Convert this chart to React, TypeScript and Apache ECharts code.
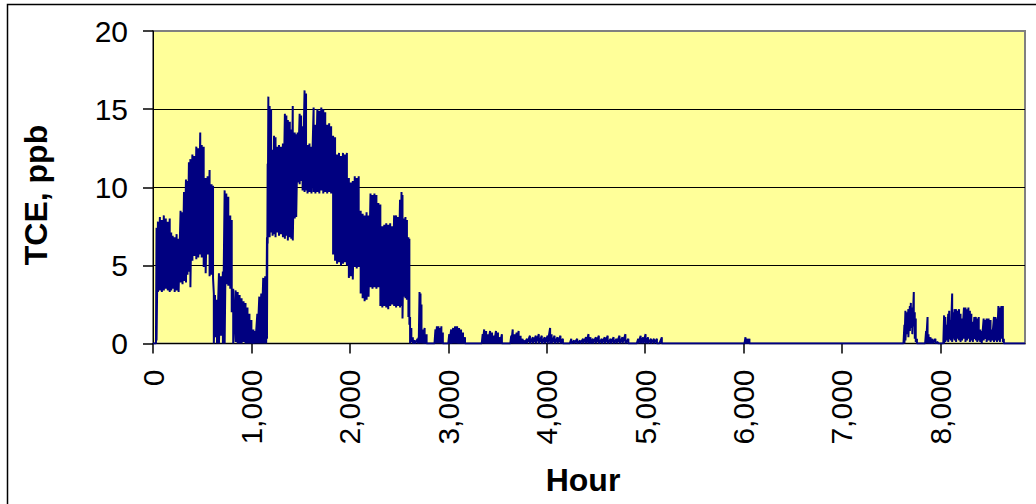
import { useEffect, useRef } from "react";
import * as echarts from "echarts";

// Axis ticks
const hourTicks = [0, 1000, 2000, 3000, 4000, 5000, 6000, 7000, 8000];
const ppbTicks = [0, 5, 10, 15, 20];
const hourEnd = 8860;

// Hourly TCE record summarised as [hour, highest ppb, lowest ppb] around each sample hour.
// Early-year episode (hours 0 – 2 800)
const earlyYear: [number, number, number][] = [
  [0, 0, 0], [30, 0, 0], [36, 7.4, 0.2], [50, 7.8, 3.3], [70, 8.1, 3.4], [90, 7.9, 3.3],
  [110, 8.2, 3.4], [130, 8.0, 3.5], [150, 7.8, 3.4], [170, 8.0, 3.3], [185, 7.1, 3.4],
  [200, 6.9, 3.5], [220, 6.8, 3.3], [240, 7.0, 3.4], [260, 6.7, 3.3], [280, 8.5, 3.9],
  [300, 8.4, 3.8], [315, 9.7, 4.0], [335, 10.5, 3.9], [350, 10.4, 4.4], [365, 11.6, 4.6],
  [380, 11.8, 3.6], [400, 12.1, 5.3], [420, 12.0, 5.6], [440, 12.6, 5.4], [460, 12.5, 5.5],
  [480, 13.5, 5.7], [495, 12.7, 5.5], [515, 12.6, 4.9], [535, 10.6, 4.5], [555, 10.7, 5.7],
  [575, 11.1, 4.3], [595, 10.2, 4.4], [610, 10.1, 4.2], [618, 3.2, 0], [630, 3.1, 0.4],
  [650, 2.8, 0], [670, 4.5, 0], [690, 4.3, 0.5], [710, 4.6, 0], [728, 9.8, 0],
  [745, 9.6, 3.8], [765, 9.4, 3.7], [785, 8.2, 3.5], [800, 7.9, 2.0], [815, 3.5, 0],
  [840, 3.4, 0.1], [860, 3.3, 0], [880, 3.1, 0], [900, 2.9, 0], [920, 2.7, 0.1],
  [940, 2.6, 0], [960, 2.3, 0], [980, 1.9, 0], [1000, 1.5, 0], [1020, 0.9, 0],
  [1040, 0.8, 0], [1060, 1.9, 0], [1080, 3.0, 0], [1100, 3.2, 0], [1120, 4.2, 0],
  [1140, 4.3, 0], [1150, 4.3, 0], [1158, 6.8, 0.3], [1165, 11.5, 6.4], [1172, 15.8, 6.9],
  [1185, 15.2, 6.8], [1200, 15.0, 7.1], [1215, 12.4, 6.9], [1230, 13.3, 7.0], [1245, 13.2, 6.8],
  [1260, 12.6, 7.1], [1280, 12.7, 6.9], [1300, 12.6, 7.0], [1320, 12.8, 6.8], [1340, 14.7, 6.7],
  [1355, 14.6, 6.9], [1370, 14.3, 6.6], [1390, 14.2, 6.8], [1405, 13.7, 6.7], [1420, 15.2, 6.6],
  [1440, 13.5, 8.0], [1455, 13.4, 8.1], [1470, 13.5, 10.3], [1490, 14.7, 10.2], [1505, 14.6, 10.4],
  [1520, 13.9, 9.8], [1540, 16.2, 9.7], [1555, 16.0, 9.8], [1570, 12.7, 9.6], [1590, 12.8, 9.7],
  [1610, 12.6, 9.6], [1632, 15.1, 9.7], [1650, 14.0, 9.6], [1670, 15.0, 9.7], [1690, 14.9, 9.6],
  [1710, 15.1, 9.8], [1730, 15.0, 9.6], [1750, 14.8, 9.7], [1770, 14.0, 9.6], [1790, 14.1, 9.7],
  [1810, 13.9, 9.6], [1830, 13.3, 5.7], [1850, 13.2, 5.3], [1870, 12.1, 5.1], [1890, 12.2, 5.2],
  [1910, 12.0, 5.0], [1930, 12.2, 5.1], [1950, 12.1, 5.2], [1970, 12.2, 5.0], [1990, 10.6, 4.2],
  [2010, 10.3, 4.3], [2030, 10.4, 4.1], [2050, 10.7, 4.9], [2070, 10.6, 4.8], [2090, 10.7, 4.9],
  [2110, 8.5, 3.2], [2130, 8.3, 2.9], [2150, 8.2, 2.7], [2170, 8.4, 2.8], [2190, 8.2, 3.0],
  [2210, 9.6, 3.6], [2230, 9.5, 3.5], [2250, 9.6, 3.6], [2270, 9.5, 3.5], [2290, 9.0, 3.6],
  [2310, 8.9, 2.4], [2330, 7.5, 2.3], [2350, 7.6, 2.4], [2370, 7.7, 2.3], [2390, 7.6, 2.2],
  [2410, 7.7, 2.4], [2430, 7.5, 2.5], [2450, 8.2, 2.4], [2470, 8.2, 2.3], [2490, 8.1, 2.4],
  [2510, 9.2, 2.3], [2525, 9.7, 2.4], [2535, 9.5, 1.6], [2550, 8.0, 3.0], [2565, 8.1, 2.9],
  [2580, 7.9, 2.8], [2595, 6.8, 1.7], [2605, 6.7, 1.2], [2612, 1.7, 0], [2625, 1.0, 0.1],
  [2640, 0.4, 0], [2660, 0.2, 0], [2690, 0.3, 0], [2700, 0.4, 0], [2708, 3.3, 0],
  [2718, 3.2, 0], [2728, 2.5, 0], [2740, 0.9, 0], [2760, 1.0, 0], [2780, 0.6, 0], [2800, 0, 0],
];

// Low-level tail (hours 2 800 – 6 100)
const midYear: [number, number, number][] = [
  [2860, 0, 0], [2870, 0.9, 0], [2885, 1.1, 0], [2900, 1.1, 0], [2915, 1.0, 0], [2930, 1.1, 0],
  [2945, 0.7, 0], [2958, 0, 0], [3000, 0, 0], [3010, 0.6, 0], [3030, 0.9, 0], [3050, 1.0, 0],
  [3070, 1.1, 0], [3090, 1.1, 0], [3110, 1.0, 0], [3130, 0.9, 0], [3150, 0.7, 0], [3170, 0.4, 0],
  [3180, 0, 0], [3340, 0, 0], [3350, 0.6, 0], [3365, 0.9, 0], [3385, 0.8, 0], [3405, 0.6, 0],
  [3425, 0.8, 0], [3445, 0.7, 0], [3465, 0.5, 0], [3485, 0.8, 0], [3505, 0.7, 0], [3525, 0.4, 0],
  [3545, 0.6, 0], [3560, 0, 0], [3630, 0, 0], [3640, 0.5, 0], [3655, 0.9, 0], [3675, 0.6, 0],
  [3695, 0.7, 0], [3715, 0.8, 0], [3735, 0.5, 0], [3755, 0.3, 0], [3775, 0.2, 0], [3800, 0.3, 0],
  [3830, 0.5, 0], [3860, 0.4, 0], [3890, 0.5, 0], [3920, 0.6, 0], [3950, 0.5, 0], [3980, 0.4, 0],
  [4010, 0.5, 0], [4035, 1.0, 0], [4050, 0.6, 0], [4080, 0.5, 0], [4110, 0.4, 0], [4140, 0.5, 0],
  [4165, 0.3, 0], [4180, 0, 0], [4235, 0, 0], [4250, 0.3, 0], [4280, 0.2, 0], [4310, 0.3, 0],
  [4340, 0.2, 0], [4370, 0.3, 0], [4400, 0.4, 0], [4425, 0.6, 0], [4445, 0.4, 0], [4470, 0.3, 0],
  [4500, 0.4, 0], [4530, 0.5, 0], [4560, 0.3, 0], [4590, 0.4, 0], [4620, 0.5, 0], [4650, 0.3, 0],
  [4680, 0.4, 0], [4710, 0.3, 0], [4740, 0.5, 0], [4770, 0.4, 0], [4800, 0.6, 0], [4830, 0.3, 0],
  [4850, 0, 0], [4915, 0, 0], [4930, 0.3, 0], [4955, 0.5, 0], [4980, 0.4, 0], [5005, 0.6, 0],
  [5030, 0.4, 0], [5060, 0.3, 0], [5090, 0.3, 0], [5120, 0.3, 0], [5145, 0, 0], [5170, 0.4, 0],
  [5185, 0, 0], [6010, 0, 0], [6020, 0.4, 0], [6040, 0.3, 0], [6060, 0.3, 0], [6075, 0, 0],
];

// Late-year return (hours 7 600 – end)
const lateYear: [number, number, number][] = [
  [7625, 0, 0], [7635, 1.2, 0], [7645, 2.1, 0.2], [7660, 2.0, 0.6], [7675, 2.2, 0.4],
  [7690, 2.4, 0.8], [7700, 2.6, 1.0], [7715, 2.3, 0.6], [7730, 3.3, 1.1], [7740, 2.0, 0.3],
  [7750, 1.6, 0.1], [7762, 0.3, 0], [7770, 0, 0], [7845, 0, 0], [7855, 0.8, 0], [7870, 1.7, 0],
  [7880, 0.6, 0], [7900, 0.4, 0], [7920, 0.3, 0], [7950, 0.3, 0], [7975, 0.1, 0], [7990, 0, 0],
  [8030, 0, 0], [8038, 1.8, 0], [8050, 1.7, 0.1], [8065, 1.2, 0.2], [8080, 1.9, 0.1],
  [8090, 2.1, 0.3], [8105, 1.5, 0.2], [8120, 3.2, 0.1], [8130, 2.0, 0.3], [8145, 2.2, 0.2],
  [8160, 2.2, 0.1], [8175, 2.1, 0.3], [8190, 2.2, 0.2], [8205, 1.9, 0.1], [8220, 1.6, 0.2],
  [8240, 2.3, 0.3], [8255, 2.3, 0.1], [8270, 2.2, 0.2], [8285, 2.3, 0.3], [8300, 2.1, 0.1],
  [8315, 1.9, 0.2], [8330, 1.4, 0.1], [8345, 1.7, 0.3], [8360, 1.7, 0.2], [8375, 1.6, 0.1],
  [8390, 1.7, 0.2], [8405, 0.9, 0.1], [8420, 0.8, 0], [8440, 1.6, 0.2], [8455, 1.5, 0.3],
  [8470, 1.6, 0.1], [8490, 1.6, 0.2], [8510, 1.5, 0.1], [8525, 0.9, 0.2], [8545, 1.7, 0.1],
  [8560, 1.7, 0.2], [8575, 1.6, 0.1], [8590, 2.4, 0.2], [8605, 2.3, 0.1], [8620, 2.4, 0.3],
  [8635, 2.4, 0.1], [8645, 0.3, 0], [8655, 0, 0], [8860, 0, 0],
];

// Trace through each sample's high and low so the hourly swings form a solid band.
function buildTrace(): [number, number][] {
  const pts: [number, number][] = [];
  for (const [h, hi, lo] of [...earlyYear, ...midYear, ...lateYear]) {
    pts.push([h, hi]);
    if (lo !== hi) pts.push([h, lo]);
  }
  return pts;
}

const FONT = '"Liberation Sans", Arial, sans-serif';

export default function App() {
  const ref = useRef<HTMLDivElement>(null);

  useEffect(() => {
    if (!ref.current) return;
    const chart = echarts.init(ref.current, null, { renderer: "svg" });
    chart.setOption({
      animation: false,
      backgroundColor: "#ffffff",
      textStyle: { fontFamily: FONT },
      grid: {
        left: 153,
        top: 31,
        width: 872,
        height: 312.5,
        show: true,
        backgroundColor: "#FFFF99",
        borderColor: "#808080",
        borderWidth: 2,
      },
      xAxis: {
        type: "value",
        min: hourTicks[0],
        max: hourEnd,
        interval: hourTicks[1] - hourTicks[0],
        axisLine: { show: true, onZero: false, lineStyle: { color: "#000", width: 1 } },
        axisTick: { show: true, length: 10, lineStyle: { color: "#000", width: 1.5 } },
        axisLabel: {
          rotate: 90,
          margin: 26,
          fontSize: 30,
          color: "#000",
          fontFamily: FONT,
          showMaxLabel: false,
          formatter: (v: number) => (hourTicks.includes(v) ? v.toLocaleString("en-US") : ""),
        },
        splitLine: { show: false },
      },
      yAxis: {
        type: "value",
        min: ppbTicks[0],
        max: ppbTicks[ppbTicks.length - 1],
        interval: ppbTicks[1] - ppbTicks[0],
        axisLine: { show: true, lineStyle: { color: "#000", width: 1 } },
        axisTick: { show: true, length: 10, lineStyle: { color: "#000", width: 1.5 } },
        axisLabel: { margin: 25, fontSize: 30, color: "#000", fontFamily: FONT },
        splitLine: {
          show: true,
          showMinLine: false,
          showMaxLine: false,
          lineStyle: { color: "#000", width: 1 },
        },
      },
      series: [
        {
          type: "line",
          data: buildTrace(),
          symbol: "none",
          showSymbol: false,
          lineStyle: { color: "#000080", width: 2 },
          z: 3,
        },
      ],
      graphic: [
        {
          type: "rect",
          silent: true,
          shape: { x: 7.5, y: 4.5, width: 1200, height: 700 },
          style: { fill: "none", stroke: "#000", lineWidth: 1.5 },
        },
        {
          type: "text",
          x: 36,
          y: 195,
          rotation: Math.PI / 2,
          style: {
            text: "TCE, ppb",
            fontFamily: FONT,
            fontWeight: "bold",
            fontSize: 32,
            fill: "#000",
            align: "center",
            verticalAlign: "middle",
          },
        },
        {
          type: "text",
          x: 583,
          y: 480,
          style: {
            text: "Hour",
            fontFamily: FONT,
            fontWeight: "bold",
            fontSize: 32,
            fill: "#000",
            align: "center",
            verticalAlign: "middle",
          },
        },
      ],
    });
    return () => chart.dispose();
  }, []);

  return (
    <div
      ref={ref}
      style={{ position: "fixed", left: 0, top: 0, width: 1036, height: 504 }}
    />
  );
}
